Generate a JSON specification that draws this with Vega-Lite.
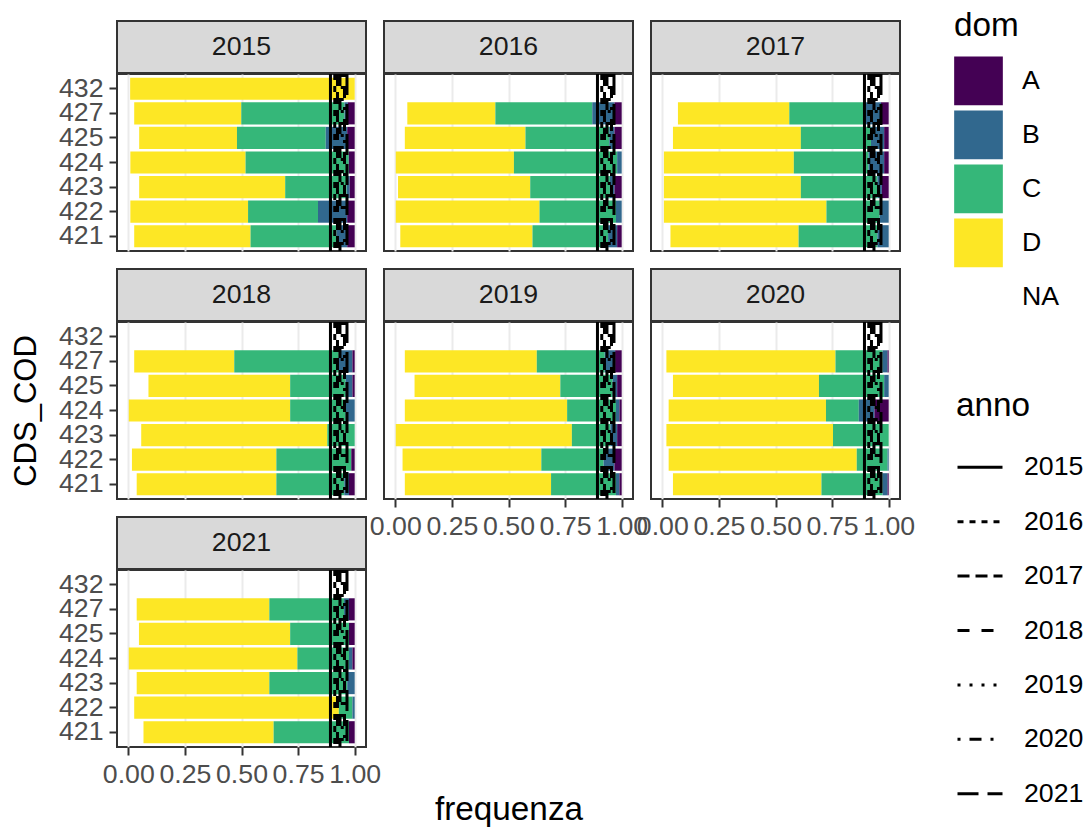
{
  "$schema": "https://vega.github.io/schema/vega-lite/v6.json",
  "autosize": {"type": "pad"},
  "padding": {"left": 9, "top": 10, "right": 0, "bottom": 0},
  "background": "white",
  "config": {
    "font": "Liberation Sans",
    "view": {"stroke": "#333333", "strokeWidth": 2},
    "axis": {"domain": false, "gridColor": "#EBEBEB", "labelFont": "Liberation Sans", "labelFontSize": 26.7, "labelColor": "#4D4D4D", "tickColor": "#333333", "tickWidth": 2, "tickSize": 8, "labelPadding": 6, "titleFont": "Liberation Sans", "titleFontSize": 33.3, "titleFontWeight": "normal", "titleColor": "#000000"},
    "legend": {"labelFont": "Liberation Sans", "labelFontSize": 26.7, "labelColor": "#000000", "titleFont": "Liberation Sans", "titleFontSize": 33.3, "titleFontWeight": "normal", "titleColor": "#000000", "padding": 0}
  },
  "datasets": {
    "bars": [
      {"anno":2015,"CDS_COD":"432","dom":"NA","value":0.008},{"anno":2015,"CDS_COD":"432","dom":"D","value":0.992},
      {"anno":2015,"CDS_COD":"427","dom":"NA","value":0.026},{"anno":2015,"CDS_COD":"427","dom":"D","value":0.473},{"anno":2015,"CDS_COD":"427","dom":"C","value":0.456},{"anno":2015,"CDS_COD":"427","dom":"B","value":0.015},{"anno":2015,"CDS_COD":"427","dom":"A","value":0.03},
      {"anno":2015,"CDS_COD":"425","dom":"NA","value":0.048},{"anno":2015,"CDS_COD":"425","dom":"D","value":0.432},{"anno":2015,"CDS_COD":"425","dom":"C","value":0.392},{"anno":2015,"CDS_COD":"425","dom":"B","value":0.095},{"anno":2015,"CDS_COD":"425","dom":"A","value":0.033},
      {"anno":2015,"CDS_COD":"424","dom":"NA","value":0.009},{"anno":2015,"CDS_COD":"424","dom":"D","value":0.509},{"anno":2015,"CDS_COD":"424","dom":"C","value":0.456},{"anno":2015,"CDS_COD":"424","dom":"A","value":0.026},
      {"anno":2015,"CDS_COD":"423","dom":"NA","value":0.048},{"anno":2015,"CDS_COD":"423","dom":"D","value":0.645},{"anno":2015,"CDS_COD":"423","dom":"C","value":0.272},{"anno":2015,"CDS_COD":"423","dom":"B","value":0.013},{"anno":2015,"CDS_COD":"423","dom":"A","value":0.022},
      {"anno":2015,"CDS_COD":"422","dom":"NA","value":0.009},{"anno":2015,"CDS_COD":"422","dom":"D","value":0.52},{"anno":2015,"CDS_COD":"422","dom":"C","value":0.309},{"anno":2015,"CDS_COD":"422","dom":"B","value":0.129},{"anno":2015,"CDS_COD":"422","dom":"A","value":0.033},
      {"anno":2015,"CDS_COD":"421","dom":"NA","value":0.026},{"anno":2015,"CDS_COD":"421","dom":"D","value":0.514},{"anno":2015,"CDS_COD":"421","dom":"C","value":0.38},{"anno":2015,"CDS_COD":"421","dom":"B","value":0.047},{"anno":2015,"CDS_COD":"421","dom":"A","value":0.033},

      {"anno":2016,"CDS_COD":"427","dom":"NA","value":0.053},{"anno":2016,"CDS_COD":"427","dom":"D","value":0.389},{"anno":2016,"CDS_COD":"427","dom":"C","value":0.428},{"anno":2016,"CDS_COD":"427","dom":"B","value":0.098},{"anno":2016,"CDS_COD":"427","dom":"A","value":0.032},
      {"anno":2016,"CDS_COD":"425","dom":"NA","value":0.042},{"anno":2016,"CDS_COD":"425","dom":"D","value":0.533},{"anno":2016,"CDS_COD":"425","dom":"C","value":0.37},{"anno":2016,"CDS_COD":"425","dom":"B","value":0.023},{"anno":2016,"CDS_COD":"425","dom":"A","value":0.032},
      {"anno":2016,"CDS_COD":"424","dom":"NA","value":0.002},{"anno":2016,"CDS_COD":"424","dom":"D","value":0.522},{"anno":2016,"CDS_COD":"424","dom":"C","value":0.456},{"anno":2016,"CDS_COD":"424","dom":"B","value":0.02},
      {"anno":2016,"CDS_COD":"423","dom":"NA","value":0.012},{"anno":2016,"CDS_COD":"423","dom":"D","value":0.584},{"anno":2016,"CDS_COD":"423","dom":"C","value":0.352},{"anno":2016,"CDS_COD":"423","dom":"B","value":0.02},{"anno":2016,"CDS_COD":"423","dom":"A","value":0.032},
      {"anno":2016,"CDS_COD":"422","dom":"NA","value":0.002},{"anno":2016,"CDS_COD":"422","dom":"D","value":0.635},{"anno":2016,"CDS_COD":"422","dom":"C","value":0.338},{"anno":2016,"CDS_COD":"422","dom":"B","value":0.025},
      {"anno":2016,"CDS_COD":"421","dom":"NA","value":0.022},{"anno":2016,"CDS_COD":"421","dom":"D","value":0.584},{"anno":2016,"CDS_COD":"421","dom":"C","value":0.334},{"anno":2016,"CDS_COD":"421","dom":"B","value":0.04},{"anno":2016,"CDS_COD":"421","dom":"A","value":0.02},

      {"anno":2017,"CDS_COD":"427","dom":"NA","value":0.069},{"anno":2017,"CDS_COD":"427","dom":"D","value":0.492},{"anno":2017,"CDS_COD":"427","dom":"C","value":0.332},{"anno":2017,"CDS_COD":"427","dom":"B","value":0.073},{"anno":2017,"CDS_COD":"427","dom":"A","value":0.034},
      {"anno":2017,"CDS_COD":"425","dom":"NA","value":0.047},{"anno":2017,"CDS_COD":"425","dom":"D","value":0.565},{"anno":2017,"CDS_COD":"425","dom":"C","value":0.31},{"anno":2017,"CDS_COD":"425","dom":"B","value":0.058},{"anno":2017,"CDS_COD":"425","dom":"A","value":0.02},
      {"anno":2017,"CDS_COD":"424","dom":"NA","value":0.007},{"anno":2017,"CDS_COD":"424","dom":"D","value":0.574},{"anno":2017,"CDS_COD":"424","dom":"C","value":0.33},{"anno":2017,"CDS_COD":"424","dom":"B","value":0.069},{"anno":2017,"CDS_COD":"424","dom":"A","value":0.02},
      {"anno":2017,"CDS_COD":"423","dom":"NA","value":0.007},{"anno":2017,"CDS_COD":"423","dom":"D","value":0.605},{"anno":2017,"CDS_COD":"423","dom":"C","value":0.338},{"anno":2017,"CDS_COD":"423","dom":"B","value":0.02},{"anno":2017,"CDS_COD":"423","dom":"A","value":0.03},
      {"anno":2017,"CDS_COD":"422","dom":"NA","value":0.007},{"anno":2017,"CDS_COD":"422","dom":"D","value":0.718},{"anno":2017,"CDS_COD":"422","dom":"C","value":0.235},{"anno":2017,"CDS_COD":"422","dom":"B","value":0.04},
      {"anno":2017,"CDS_COD":"421","dom":"NA","value":0.036},{"anno":2017,"CDS_COD":"421","dom":"D","value":0.566},{"anno":2017,"CDS_COD":"421","dom":"C","value":0.348},{"anno":2017,"CDS_COD":"421","dom":"B","value":0.05},

      {"anno":2018,"CDS_COD":"427","dom":"NA","value":0.026},{"anno":2018,"CDS_COD":"427","dom":"D","value":0.442},{"anno":2018,"CDS_COD":"427","dom":"C","value":0.462},{"anno":2018,"CDS_COD":"427","dom":"B","value":0.06},{"anno":2018,"CDS_COD":"427","dom":"A","value":0.01},
      {"anno":2018,"CDS_COD":"425","dom":"NA","value":0.089},{"anno":2018,"CDS_COD":"425","dom":"D","value":0.626},{"anno":2018,"CDS_COD":"425","dom":"C","value":0.245},{"anno":2018,"CDS_COD":"425","dom":"B","value":0.03},{"anno":2018,"CDS_COD":"425","dom":"A","value":0.01},
      {"anno":2018,"CDS_COD":"424","dom":"NA","value":0.002},{"anno":2018,"CDS_COD":"424","dom":"D","value":0.713},{"anno":2018,"CDS_COD":"424","dom":"C","value":0.245},{"anno":2018,"CDS_COD":"424","dom":"B","value":0.04},
      {"anno":2018,"CDS_COD":"423","dom":"NA","value":0.057},{"anno":2018,"CDS_COD":"423","dom":"D","value":0.822},{"anno":2018,"CDS_COD":"423","dom":"C","value":0.121},
      {"anno":2018,"CDS_COD":"422","dom":"NA","value":0.016},{"anno":2018,"CDS_COD":"422","dom":"D","value":0.638},{"anno":2018,"CDS_COD":"422","dom":"C","value":0.331},{"anno":2018,"CDS_COD":"422","dom":"A","value":0.015},
      {"anno":2018,"CDS_COD":"421","dom":"NA","value":0.037},{"anno":2018,"CDS_COD":"421","dom":"D","value":0.617},{"anno":2018,"CDS_COD":"421","dom":"C","value":0.3},{"anno":2018,"CDS_COD":"421","dom":"B","value":0.021},{"anno":2018,"CDS_COD":"421","dom":"A","value":0.025},

      {"anno":2019,"CDS_COD":"427","dom":"NA","value":0.042},{"anno":2019,"CDS_COD":"427","dom":"D","value":0.583},{"anno":2019,"CDS_COD":"427","dom":"C","value":0.3},{"anno":2019,"CDS_COD":"427","dom":"B","value":0.046},{"anno":2019,"CDS_COD":"427","dom":"A","value":0.029},
      {"anno":2019,"CDS_COD":"425","dom":"NA","value":0.085},{"anno":2019,"CDS_COD":"425","dom":"D","value":0.644},{"anno":2019,"CDS_COD":"425","dom":"C","value":0.231},{"anno":2019,"CDS_COD":"425","dom":"B","value":0.02},{"anno":2019,"CDS_COD":"425","dom":"A","value":0.02},
      {"anno":2019,"CDS_COD":"424","dom":"NA","value":0.042},{"anno":2019,"CDS_COD":"424","dom":"D","value":0.717},{"anno":2019,"CDS_COD":"424","dom":"C","value":0.216},{"anno":2019,"CDS_COD":"424","dom":"B","value":0.015},{"anno":2019,"CDS_COD":"424","dom":"A","value":0.01},
      {"anno":2019,"CDS_COD":"423","dom":"NA","value":0.002},{"anno":2019,"CDS_COD":"423","dom":"D","value":0.778},{"anno":2019,"CDS_COD":"423","dom":"C","value":0.17},{"anno":2019,"CDS_COD":"423","dom":"B","value":0.03},{"anno":2019,"CDS_COD":"423","dom":"A","value":0.02},
      {"anno":2019,"CDS_COD":"422","dom":"NA","value":0.032},{"anno":2019,"CDS_COD":"422","dom":"D","value":0.613},{"anno":2019,"CDS_COD":"422","dom":"C","value":0.275},{"anno":2019,"CDS_COD":"422","dom":"B","value":0.048},{"anno":2019,"CDS_COD":"422","dom":"A","value":0.032},
      {"anno":2019,"CDS_COD":"421","dom":"NA","value":0.042},{"anno":2019,"CDS_COD":"421","dom":"D","value":0.646},{"anno":2019,"CDS_COD":"421","dom":"C","value":0.287},{"anno":2019,"CDS_COD":"421","dom":"B","value":0.015},{"anno":2019,"CDS_COD":"421","dom":"A","value":0.01},

      {"anno":2020,"CDS_COD":"427","dom":"NA","value":0.018},{"anno":2020,"CDS_COD":"427","dom":"D","value":0.747},{"anno":2020,"CDS_COD":"427","dom":"C","value":0.208},{"anno":2020,"CDS_COD":"427","dom":"B","value":0.022},{"anno":2020,"CDS_COD":"427","dom":"A","value":0.005},
      {"anno":2020,"CDS_COD":"425","dom":"NA","value":0.047},{"anno":2020,"CDS_COD":"425","dom":"D","value":0.645},{"anno":2020,"CDS_COD":"425","dom":"C","value":0.288},{"anno":2020,"CDS_COD":"425","dom":"B","value":0.02},
      {"anno":2020,"CDS_COD":"424","dom":"NA","value":0.028},{"anno":2020,"CDS_COD":"424","dom":"D","value":0.695},{"anno":2020,"CDS_COD":"424","dom":"C","value":0.145},{"anno":2020,"CDS_COD":"424","dom":"B","value":0.069},{"anno":2020,"CDS_COD":"424","dom":"A","value":0.063},
      {"anno":2020,"CDS_COD":"423","dom":"NA","value":0.018},{"anno":2020,"CDS_COD":"423","dom":"D","value":0.736},{"anno":2020,"CDS_COD":"423","dom":"C","value":0.246},
      {"anno":2020,"CDS_COD":"422","dom":"NA","value":0.028},{"anno":2020,"CDS_COD":"422","dom":"D","value":0.831},{"anno":2020,"CDS_COD":"422","dom":"C","value":0.136},{"anno":2020,"CDS_COD":"422","dom":"B","value":0.005},
      {"anno":2020,"CDS_COD":"421","dom":"NA","value":0.047},{"anno":2020,"CDS_COD":"421","dom":"D","value":0.656},{"anno":2020,"CDS_COD":"421","dom":"C","value":0.27},{"anno":2020,"CDS_COD":"421","dom":"B","value":0.022},{"anno":2020,"CDS_COD":"421","dom":"A","value":0.005},

      {"anno":2021,"CDS_COD":"427","dom":"NA","value":0.037},{"anno":2021,"CDS_COD":"427","dom":"D","value":0.586},{"anno":2021,"CDS_COD":"427","dom":"C","value":0.33},{"anno":2021,"CDS_COD":"427","dom":"B","value":0.022},{"anno":2021,"CDS_COD":"427","dom":"A","value":0.025},
      {"anno":2021,"CDS_COD":"425","dom":"NA","value":0.047},{"anno":2021,"CDS_COD":"425","dom":"D","value":0.668},{"anno":2021,"CDS_COD":"425","dom":"C","value":0.26},{"anno":2021,"CDS_COD":"425","dom":"A","value":0.025},
      {"anno":2021,"CDS_COD":"424","dom":"NA","value":0.002},{"anno":2021,"CDS_COD":"424","dom":"D","value":0.745},{"anno":2021,"CDS_COD":"424","dom":"C","value":0.228},{"anno":2021,"CDS_COD":"424","dom":"B","value":0.015},{"anno":2021,"CDS_COD":"424","dom":"A","value":0.01},
      {"anno":2021,"CDS_COD":"423","dom":"NA","value":0.037},{"anno":2021,"CDS_COD":"423","dom":"D","value":0.586},{"anno":2021,"CDS_COD":"423","dom":"C","value":0.344},{"anno":2021,"CDS_COD":"423","dom":"B","value":0.033},
      {"anno":2021,"CDS_COD":"422","dom":"NA","value":0.026},{"anno":2021,"CDS_COD":"422","dom":"D","value":0.904},{"anno":2021,"CDS_COD":"422","dom":"C","value":0.06},{"anno":2021,"CDS_COD":"422","dom":"B","value":0.01},
      {"anno":2021,"CDS_COD":"421","dom":"NA","value":0.067},{"anno":2021,"CDS_COD":"421","dom":"D","value":0.575},{"anno":2021,"CDS_COD":"421","dom":"C","value":0.333},{"anno":2021,"CDS_COD":"421","dom":"A","value":0.025}
    ],
    "soglie": [
      {"anno":2015,"value":0.893},{"anno":2016,"value":0.912},{"anno":2017,"value":0.924},{"anno":2018,"value":0.935},{"anno":2019,"value":0.945},{"anno":2020,"value":0.955},{"anno":2021,"value":0.966}
    ]
  },
  "spacing": -14,
  "resolve": {"scale": {"x": "independent", "y": "independent"}, "axis": {"x": "independent", "y": "independent"}},
  "hconcat": [
    {"spacing": 14, "resolve": {"scale": {"x": "independent", "y": "independent"}, "axis": {"x": "independent", "y": "independent"}}, "vconcat": [
      {"spacing": -4, "resolve": {"scale": {"x": "independent", "y": "independent"}, "axis": {"x": "independent", "y": "independent"}}, "vconcat": [
        {"width": 249, "height": 52, "data": {"name": "soglie"}, "transform": [{"filter": "datum.anno == 2015"}], "view": {"fill": "#D9D9D9", "stroke": "#333333", "strokeWidth": 2}, "mark": {"type": "text", "fontSize": 26.7, "color": "#1A1A1A"}, "encoding": {"text": {"field": "anno", "type": "nominal"}}},
        {"width": 249, "height": 177, "resolve": {"axis": {"x": "independent"}}, "layer": [
          {"data": {"name": "bars"}, "transform": [{"filter": "datum.anno == 2015"}], "mark": {"type": "bar"}, "encoding": {
            "y": {"field": "CDS_COD", "type": "nominal", "scale": {"domain": ["432","427","425","424","423","422","421"], "paddingInner": 0.1, "paddingOuter": 0.15}, "axis": {"title": null, "bandPosition": 0.5, "gridWidth": 2}},
            "x": {"field": "value", "type": "quantitative", "stack": "zero", "scale": {"domain": [-0.05, 1.05], "nice": false, "zero": false}, "axis": {"title": null, "values": [0,0.25,0.5,0.75,1], "gridWidth": 2, "ticks": false, "labels": false}},
            "color": {"field": "dom", "type": "nominal", "scale": {"domain": ["A","B","C","D","NA"], "range": ["#440154","#31688E","#35B779","#FDE725","transparent"]}, "legend": {"title": "dom", "orient": "none", "legendX": 837, "legendY": -11, "symbolType": "square", "symbolSize": 2370, "symbolStrokeWidth": 0, "rowPadding": 5, "labelOffset": 19, "titlePadding": 13}},
            "order": {"field": "dom", "sort": "descending"}}},
          {"data": {"name": "soglie"}, "mark": {"type": "rule", "color": "black", "strokeWidth": 3}, "encoding": {
            "x": {"field": "value", "type": "quantitative", "axis": {"orient": "bottom", "title": null, "values": [0.125,0.375,0.625,0.875], "gridWidth": 1, "ticks": false, "labels": false}},
            "strokeDash": {"field": "anno", "type": "nominal", "scale": {"domain": [2015,2016,2017,2018,2019,2020,2021], "range": [[1,0],[6,6],[12,6],[12,12],[3,9],[3,9,12,9],[21,9]]}, "legend": {"title": "anno", "orient": "none", "legendX": 839, "legendY": 369, "symbolType": "stroke", "symbolSize": 2025, "symbolStrokeColor": "black", "symbolStrokeWidth": 3, "rowPadding": 16.4, "labelOffset": 20, "titlePadding": 20}}}}
        ]}
      ]},
      {"spacing": -4, "resolve": {"scale": {"x": "independent", "y": "independent"}, "axis": {"x": "independent", "y": "independent"}}, "vconcat": [
        {"width": 249, "height": 52, "data": {"name": "soglie"}, "transform": [{"filter": "datum.anno == 2018"}], "view": {"fill": "#D9D9D9", "stroke": "#333333", "strokeWidth": 2}, "mark": {"type": "text", "fontSize": 26.7, "color": "#1A1A1A"}, "encoding": {"text": {"field": "anno", "type": "nominal"}}},
        {"width": 249, "height": 177, "resolve": {"axis": {"x": "independent"}}, "layer": [
          {"data": {"name": "bars"}, "transform": [{"filter": "datum.anno == 2018"}], "mark": {"type": "bar"}, "encoding": {
            "y": {"field": "CDS_COD", "type": "nominal", "scale": {"domain": ["432","427","425","424","423","422","421"], "paddingInner": 0.1, "paddingOuter": 0.15}, "axis": {"title": "CDS_COD", "titleFontSize": 31, "titlePadding": 16, "bandPosition": 0.5, "gridWidth": 2}},
            "x": {"field": "value", "type": "quantitative", "stack": "zero", "scale": {"domain": [-0.05, 1.05], "nice": false, "zero": false}, "axis": {"title": null, "values": [0,0.25,0.5,0.75,1], "gridWidth": 2, "ticks": false, "labels": false}},
            "color": {"field": "dom", "type": "nominal", "scale": {"domain": ["A","B","C","D","NA"], "range": ["#440154","#31688E","#35B779","#FDE725","transparent"]}, "legend": {"title": "dom", "orient": "none", "legendX": 837, "legendY": -11, "symbolType": "square", "symbolSize": 2370, "symbolStrokeWidth": 0, "rowPadding": 5, "labelOffset": 19, "titlePadding": 13}},
            "order": {"field": "dom", "sort": "descending"}}},
          {"data": {"name": "soglie"}, "mark": {"type": "rule", "color": "black", "strokeWidth": 3}, "encoding": {
            "x": {"field": "value", "type": "quantitative", "axis": {"orient": "bottom", "title": null, "values": [0.125,0.375,0.625,0.875], "gridWidth": 1, "ticks": false, "labels": false}},
            "strokeDash": {"field": "anno", "type": "nominal", "scale": {"domain": [2015,2016,2017,2018,2019,2020,2021], "range": [[1,0],[6,6],[12,6],[12,12],[3,9],[3,9,12,9],[21,9]]}, "legend": {"title": "anno", "orient": "none", "legendX": 839, "legendY": 369, "symbolType": "stroke", "symbolSize": 2025, "symbolStrokeColor": "black", "symbolStrokeWidth": 3, "rowPadding": 16.4, "labelOffset": 20, "titlePadding": 20}}}}
        ]}
      ]},
      {"spacing": -4, "resolve": {"scale": {"x": "independent", "y": "independent"}, "axis": {"x": "independent", "y": "independent"}}, "vconcat": [
        {"width": 249, "height": 52, "data": {"name": "soglie"}, "transform": [{"filter": "datum.anno == 2021"}], "view": {"fill": "#D9D9D9", "stroke": "#333333", "strokeWidth": 2}, "mark": {"type": "text", "fontSize": 26.7, "color": "#1A1A1A"}, "encoding": {"text": {"field": "anno", "type": "nominal"}}},
        {"width": 249, "height": 177, "resolve": {"axis": {"x": "independent"}}, "layer": [
          {"data": {"name": "bars"}, "transform": [{"filter": "datum.anno == 2021"}], "mark": {"type": "bar"}, "encoding": {
            "y": {"field": "CDS_COD", "type": "nominal", "scale": {"domain": ["432","427","425","424","423","422","421"], "paddingInner": 0.1, "paddingOuter": 0.15}, "axis": {"title": null, "bandPosition": 0.5, "gridWidth": 2}},
            "x": {"field": "value", "type": "quantitative", "stack": "zero", "scale": {"domain": [-0.05, 1.05], "nice": false, "zero": false}, "axis": {"title": null, "values": [0,0.25,0.5,0.75,1], "format": ".2f", "gridWidth": 2, "labelFlush": false, "labelOverlap": false}},
            "color": {"field": "dom", "type": "nominal", "scale": {"domain": ["A","B","C","D","NA"], "range": ["#440154","#31688E","#35B779","#FDE725","transparent"]}, "legend": {"title": "dom", "orient": "none", "legendX": 837, "legendY": -11, "symbolType": "square", "symbolSize": 2370, "symbolStrokeWidth": 0, "rowPadding": 5, "labelOffset": 19, "titlePadding": 13}},
            "order": {"field": "dom", "sort": "descending"}}},
          {"data": {"name": "soglie"}, "mark": {"type": "rule", "color": "black", "strokeWidth": 3}, "encoding": {
            "x": {"field": "value", "type": "quantitative", "axis": {"orient": "bottom", "title": null, "values": [0.125,0.375,0.625,0.875], "gridWidth": 1, "ticks": false, "labels": false}},
            "strokeDash": {"field": "anno", "type": "nominal", "scale": {"domain": [2015,2016,2017,2018,2019,2020,2021], "range": [[1,0],[6,6],[12,6],[12,12],[3,9],[3,9,12,9],[21,9]]}, "legend": {"title": "anno", "orient": "none", "legendX": 839, "legendY": 369, "symbolType": "stroke", "symbolSize": 2025, "symbolStrokeColor": "black", "symbolStrokeWidth": 3, "rowPadding": 16.4, "labelOffset": 20, "titlePadding": 20}}}}
        ]}
      ]}
    ]},
    {"spacing": 14, "resolve": {"scale": {"x": "independent", "y": "independent"}, "axis": {"x": "independent", "y": "independent"}}, "vconcat": [
      {"spacing": -4, "resolve": {"scale": {"x": "independent", "y": "independent"}, "axis": {"x": "independent", "y": "independent"}}, "vconcat": [
        {"width": 249, "height": 52, "data": {"name": "soglie"}, "transform": [{"filter": "datum.anno == 2016"}], "view": {"fill": "#D9D9D9", "stroke": "#333333", "strokeWidth": 2}, "mark": {"type": "text", "fontSize": 26.7, "color": "#1A1A1A"}, "encoding": {"text": {"field": "anno", "type": "nominal"}}},
        {"width": 249, "height": 177, "resolve": {"axis": {"x": "independent"}}, "layer": [
          {"data": {"name": "bars"}, "transform": [{"filter": "datum.anno == 2016"}], "mark": {"type": "bar"}, "encoding": {
            "y": {"field": "CDS_COD", "type": "nominal", "scale": {"domain": ["432","427","425","424","423","422","421"], "paddingInner": 0.1, "paddingOuter": 0.15}, "axis": {"title": null, "bandPosition": 0.5, "gridWidth": 2, "ticks": false, "labels": false}},
            "x": {"field": "value", "type": "quantitative", "stack": "zero", "scale": {"domain": [-0.05, 1.05], "nice": false, "zero": false}, "axis": {"title": null, "values": [0,0.25,0.5,0.75,1], "gridWidth": 2, "ticks": false, "labels": false}},
            "color": {"field": "dom", "type": "nominal", "scale": {"domain": ["A","B","C","D","NA"], "range": ["#440154","#31688E","#35B779","#FDE725","transparent"]}, "legend": {"title": "dom", "orient": "none", "legendX": 837, "legendY": -11, "symbolType": "square", "symbolSize": 2370, "symbolStrokeWidth": 0, "rowPadding": 5, "labelOffset": 19, "titlePadding": 13}},
            "order": {"field": "dom", "sort": "descending"}}},
          {"data": {"name": "soglie"}, "mark": {"type": "rule", "color": "black", "strokeWidth": 3}, "encoding": {
            "x": {"field": "value", "type": "quantitative", "axis": {"orient": "bottom", "title": null, "values": [0.125,0.375,0.625,0.875], "gridWidth": 1, "ticks": false, "labels": false}},
            "strokeDash": {"field": "anno", "type": "nominal", "scale": {"domain": [2015,2016,2017,2018,2019,2020,2021], "range": [[1,0],[6,6],[12,6],[12,12],[3,9],[3,9,12,9],[21,9]]}, "legend": {"title": "anno", "orient": "none", "legendX": 839, "legendY": 369, "symbolType": "stroke", "symbolSize": 2025, "symbolStrokeColor": "black", "symbolStrokeWidth": 3, "rowPadding": 16.4, "labelOffset": 20, "titlePadding": 20}}}}
        ]}
      ]},
      {"spacing": -4, "resolve": {"scale": {"x": "independent", "y": "independent"}, "axis": {"x": "independent", "y": "independent"}}, "vconcat": [
        {"width": 249, "height": 52, "data": {"name": "soglie"}, "transform": [{"filter": "datum.anno == 2019"}], "view": {"fill": "#D9D9D9", "stroke": "#333333", "strokeWidth": 2}, "mark": {"type": "text", "fontSize": 26.7, "color": "#1A1A1A"}, "encoding": {"text": {"field": "anno", "type": "nominal"}}},
        {"width": 249, "height": 177, "resolve": {"axis": {"x": "independent"}}, "layer": [
          {"data": {"name": "bars"}, "transform": [{"filter": "datum.anno == 2019"}], "mark": {"type": "bar"}, "encoding": {
            "y": {"field": "CDS_COD", "type": "nominal", "scale": {"domain": ["432","427","425","424","423","422","421"], "paddingInner": 0.1, "paddingOuter": 0.15}, "axis": {"title": null, "bandPosition": 0.5, "gridWidth": 2, "ticks": false, "labels": false}},
            "x": {"field": "value", "type": "quantitative", "stack": "zero", "scale": {"domain": [-0.05, 1.05], "nice": false, "zero": false}, "axis": {"title": "frequenza", "titleY": 320, "titleBaseline": "alphabetic", "values": [0,0.25,0.5,0.75,1], "format": ".2f", "gridWidth": 2, "labelFlush": false, "labelOverlap": false}},
            "color": {"field": "dom", "type": "nominal", "scale": {"domain": ["A","B","C","D","NA"], "range": ["#440154","#31688E","#35B779","#FDE725","transparent"]}, "legend": {"title": "dom", "orient": "none", "legendX": 837, "legendY": -11, "symbolType": "square", "symbolSize": 2370, "symbolStrokeWidth": 0, "rowPadding": 5, "labelOffset": 19, "titlePadding": 13}},
            "order": {"field": "dom", "sort": "descending"}}},
          {"data": {"name": "soglie"}, "mark": {"type": "rule", "color": "black", "strokeWidth": 3}, "encoding": {
            "x": {"field": "value", "type": "quantitative", "axis": {"orient": "bottom", "title": null, "values": [0.125,0.375,0.625,0.875], "gridWidth": 1, "ticks": false, "labels": false}},
            "strokeDash": {"field": "anno", "type": "nominal", "scale": {"domain": [2015,2016,2017,2018,2019,2020,2021], "range": [[1,0],[6,6],[12,6],[12,12],[3,9],[3,9,12,9],[21,9]]}, "legend": {"title": "anno", "orient": "none", "legendX": 839, "legendY": 369, "symbolType": "stroke", "symbolSize": 2025, "symbolStrokeColor": "black", "symbolStrokeWidth": 3, "rowPadding": 16.4, "labelOffset": 20, "titlePadding": 20}}}}
        ]}
      ]}
    ]},
    {"spacing": 14, "resolve": {"scale": {"x": "independent", "y": "independent"}, "axis": {"x": "independent", "y": "independent"}}, "vconcat": [
      {"spacing": -4, "resolve": {"scale": {"x": "independent", "y": "independent"}, "axis": {"x": "independent", "y": "independent"}}, "vconcat": [
        {"width": 249, "height": 52, "data": {"name": "soglie"}, "transform": [{"filter": "datum.anno == 2017"}], "view": {"fill": "#D9D9D9", "stroke": "#333333", "strokeWidth": 2}, "mark": {"type": "text", "fontSize": 26.7, "color": "#1A1A1A"}, "encoding": {"text": {"field": "anno", "type": "nominal"}}},
        {"width": 249, "height": 177, "resolve": {"axis": {"x": "independent"}}, "layer": [
          {"data": {"name": "bars"}, "transform": [{"filter": "datum.anno == 2017"}], "mark": {"type": "bar"}, "encoding": {
            "y": {"field": "CDS_COD", "type": "nominal", "scale": {"domain": ["432","427","425","424","423","422","421"], "paddingInner": 0.1, "paddingOuter": 0.15}, "axis": {"title": null, "bandPosition": 0.5, "gridWidth": 2, "ticks": false, "labels": false}},
            "x": {"field": "value", "type": "quantitative", "stack": "zero", "scale": {"domain": [-0.05, 1.05], "nice": false, "zero": false}, "axis": {"title": null, "values": [0,0.25,0.5,0.75,1], "gridWidth": 2, "ticks": false, "labels": false}},
            "color": {"field": "dom", "type": "nominal", "scale": {"domain": ["A","B","C","D","NA"], "range": ["#440154","#31688E","#35B779","#FDE725","transparent"]}, "legend": {"title": "dom", "orient": "none", "legendX": 837, "legendY": -11, "symbolType": "square", "symbolSize": 2370, "symbolStrokeWidth": 0, "rowPadding": 5, "labelOffset": 19, "titlePadding": 13}},
            "order": {"field": "dom", "sort": "descending"}}},
          {"data": {"name": "soglie"}, "mark": {"type": "rule", "color": "black", "strokeWidth": 3}, "encoding": {
            "x": {"field": "value", "type": "quantitative", "axis": {"orient": "bottom", "title": null, "values": [0.125,0.375,0.625,0.875], "gridWidth": 1, "ticks": false, "labels": false}},
            "strokeDash": {"field": "anno", "type": "nominal", "scale": {"domain": [2015,2016,2017,2018,2019,2020,2021], "range": [[1,0],[6,6],[12,6],[12,12],[3,9],[3,9,12,9],[21,9]]}, "legend": {"title": "anno", "orient": "none", "legendX": 839, "legendY": 369, "symbolType": "stroke", "symbolSize": 2025, "symbolStrokeColor": "black", "symbolStrokeWidth": 3, "rowPadding": 16.4, "labelOffset": 20, "titlePadding": 20}}}}
        ]}
      ]},
      {"spacing": -4, "resolve": {"scale": {"x": "independent", "y": "independent"}, "axis": {"x": "independent", "y": "independent"}}, "vconcat": [
        {"width": 249, "height": 52, "data": {"name": "soglie"}, "transform": [{"filter": "datum.anno == 2020"}], "view": {"fill": "#D9D9D9", "stroke": "#333333", "strokeWidth": 2}, "mark": {"type": "text", "fontSize": 26.7, "color": "#1A1A1A"}, "encoding": {"text": {"field": "anno", "type": "nominal"}}},
        {"width": 249, "height": 177, "resolve": {"axis": {"x": "independent"}}, "layer": [
          {"data": {"name": "bars"}, "transform": [{"filter": "datum.anno == 2020"}], "mark": {"type": "bar"}, "encoding": {
            "y": {"field": "CDS_COD", "type": "nominal", "scale": {"domain": ["432","427","425","424","423","422","421"], "paddingInner": 0.1, "paddingOuter": 0.15}, "axis": {"title": null, "bandPosition": 0.5, "gridWidth": 2, "ticks": false, "labels": false}},
            "x": {"field": "value", "type": "quantitative", "stack": "zero", "scale": {"domain": [-0.05, 1.05], "nice": false, "zero": false}, "axis": {"title": null, "values": [0,0.25,0.5,0.75,1], "format": ".2f", "gridWidth": 2, "labelFlush": false, "labelOverlap": false}},
            "color": {"field": "dom", "type": "nominal", "scale": {"domain": ["A","B","C","D","NA"], "range": ["#440154","#31688E","#35B779","#FDE725","transparent"]}, "legend": {"title": "dom", "orient": "none", "legendX": 837, "legendY": -11, "symbolType": "square", "symbolSize": 2370, "symbolStrokeWidth": 0, "rowPadding": 5, "labelOffset": 19, "titlePadding": 13}},
            "order": {"field": "dom", "sort": "descending"}}},
          {"data": {"name": "soglie"}, "mark": {"type": "rule", "color": "black", "strokeWidth": 3}, "encoding": {
            "x": {"field": "value", "type": "quantitative", "axis": {"orient": "bottom", "title": null, "values": [0.125,0.375,0.625,0.875], "gridWidth": 1, "ticks": false, "labels": false}},
            "strokeDash": {"field": "anno", "type": "nominal", "scale": {"domain": [2015,2016,2017,2018,2019,2020,2021], "range": [[1,0],[6,6],[12,6],[12,12],[3,9],[3,9,12,9],[21,9]]}, "legend": {"title": "anno", "orient": "none", "legendX": 839, "legendY": 369, "symbolType": "stroke", "symbolSize": 2025, "symbolStrokeColor": "black", "symbolStrokeWidth": 3, "rowPadding": 16.4, "labelOffset": 20, "titlePadding": 20}}}}
        ]}
      ]}
    ]}
  ]
}
